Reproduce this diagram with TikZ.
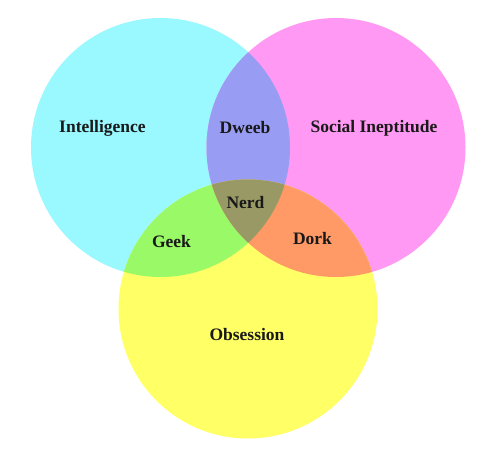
\documentclass[tikz,border=0pt]{standalone}
\usepackage{fontspec}
\setmainfont{Liberation Serif}
\definecolor{cIntel}{HTML}{99F9FF}
\definecolor{cSocial}{HTML}{FF99F3}
\definecolor{cObs}{HTML}{FFFF66}
\definecolor{cDweeb}{HTML}{999CF3}
\definecolor{cGeek}{HTML}{99F966}
\definecolor{cDork}{HTML}{FF9966}
\definecolor{cNerd}{HTML}{999966}
\begin{document}
\begin{tikzpicture}[x=1pt,y=-1pt,
  lbl/.style={font=\fontsize{17.5}{20}\selectfont\bfseries, text=black!90, inner sep=0pt}]
\useasboundingbox (0,0) rectangle (484,453);
\fill[white] (0,0) rectangle (484,453);
% circle centres and common radius
\def\R{129.5}
\coordinate (ci) at (160.5,147.5);
\coordinate (cs) at (336,147.5);
\coordinate (co) at (248,309);
% single circles
\fill[cIntel] (ci) circle (\R);
\fill[cSocial] (cs) circle (\R);
\fill[cObs] (co) circle (\R);
% pairwise overlaps
\begin{scope}
  \clip (ci) circle (\R);
  \fill[cDweeb] (cs) circle (\R);
  \fill[cGeek] (co) circle (\R);
\end{scope}
\begin{scope}
  \clip (cs) circle (\R);
  \fill[cDork] (co) circle (\R);
\end{scope}
% triple overlap
\begin{scope}
  \clip (ci) circle (\R);
  \clip (cs) circle (\R);
  \fill[cNerd] (co) circle (\R);
\end{scope}
% labels
\node[lbl] (intel) at (102.5,128) {Intelligence};
\node[lbl] (dweeb) at (245,128) {Dweeb};
\node[lbl] (social) at (374,128) {Social Ineptitude};
\node[lbl] (nerd) at (245.5,203) {Nerd};
\node[lbl] (geek) at (171.5,242) {Geek};
\node[lbl] (dork) at (312.5,239) {Dork};
\node[lbl] (obs) at (247,335) {Obsession};
\end{tikzpicture}
\end{document}
